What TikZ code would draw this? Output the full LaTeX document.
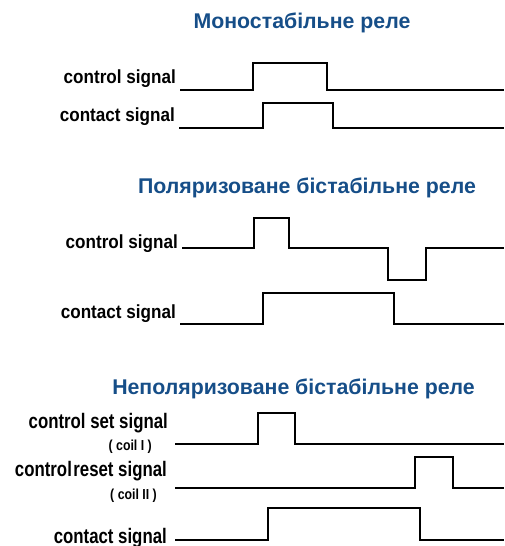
\documentclass[tikz,border=0pt]{standalone}
\usepackage{fontspec}
\setmainfont{Liberation Sans}
\newfontfamily\lblfont{Liberation Sans}[FakeStretch=0.9]
\newfontfamily\lblnarrow{Liberation Sans}[FakeStretch=0.8]
\newfontfamily\coilfont{Liberation Sans}[FakeStretch=0.85]
\definecolor{titleblue}{RGB}{22,78,136}
\tikzset{
  heading/.style={inner sep=0pt, anchor=base, text=titleblue,
    font=\fontsize{21.3}{24}\selectfont\bfseries},
  siglabel/.style={inner sep=0pt, anchor=base east,
    font=\lblfont\fontsize{19}{22}\selectfont\bfseries},
  siglabelnarrow/.style={inner sep=0pt, anchor=base east,
    font=\lblnarrow\fontsize{21}{24}\selectfont\bfseries},
  coillabel/.style={inner sep=0pt, anchor=base east,
    font=\coilfont\fontsize{14.5}{17}\selectfont\bfseries},
  wave/.style={line width=2.8pt, line join=miter, black}
}
\begin{document}
\begin{tikzpicture}[x=1pt, y=-1pt]
\useasboundingbox (0,0) rectangle (504,546);

% --- monostable relay ---
\node[heading] (t1) at (302,28) {Моностабільне реле};
\node[siglabel] (m-ctl) at (176,83.5) {control signal};
\node[siglabel] (m-con) at (175,121.5) {contact signal};
\draw[wave] (180,90) -- (253,90) -- (253,63) -- (327,63) -- (327,90) -- (504,90);
\draw[wave] (179,128) -- (263,128) -- (263,103) -- (333,103) -- (333,128) -- (504,128);

% --- polarized bistable relay ---
\node[heading] (t2) at (307,193) {Поляризоване бістабільне реле};
\node[siglabel] (p-ctl) at (178,248) {control signal};
\node[siglabel] (p-con) at (176,318) {contact signal};
\draw[wave] (182,248) -- (254,248) -- (254,218) -- (289,218) -- (289,248)
  -- (388,248) -- (388,280) -- (426,280) -- (426,248) -- (504,248);
\draw[wave] (180,324) -- (263,324) -- (263,293) -- (394,293) -- (394,324) -- (504,324);

% --- non-polarized bistable relay ---
\node[heading] (t3) at (293.5,394) {Неполяризоване бістабільне реле};
\node[siglabelnarrow] (n-set) at (168,428) {control set signal};
\node[coillabel] (n-c1) at (152,450) {( coil I )};
\node[siglabelnarrow] (n-reset) at (167,476) {control\hspace{1.5pt}reset signal};
\node[coillabel] (n-c2) at (157,499) {( coil II )};
\node[siglabelnarrow] (n-con) at (167,543) {contact signal};
\draw[wave] (175,444) -- (258,444) -- (258,413) -- (295,413) -- (295,444) -- (504,444);
\draw[wave] (175,488) -- (415,488) -- (415,457) -- (453,457) -- (453,488) -- (504,488);
\draw[wave] (175,540) -- (268,540) -- (268,508) -- (420,508) -- (420,540) -- (504,540);
\end{tikzpicture}
\end{document}
